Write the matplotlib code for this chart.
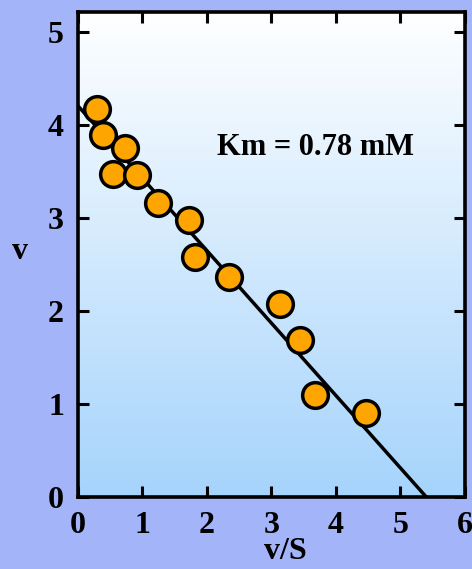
import numpy as np
import matplotlib
matplotlib.use("Agg")
import matplotlib.pyplot as plt

# Eadie-Hofstee data: v against v/S
v_over_s = [0.29, 0.39, 0.73, 0.54, 0.91, 1.24, 1.73, 1.81, 2.35, 3.14, 3.45, 3.68, 4.46]
v = [4.18, 3.89, 3.75, 3.48, 3.46, 3.16, 2.98, 2.58, 2.37, 2.07, 1.69, 1.10, 0.90]

km = 0.78
vmax = 4.21

plt.rcParams['font.family'] = ['Liberation Serif', 'DejaVu Serif']
plt.rcParams['font.weight'] = 'bold'

fig = plt.figure(figsize=(4.72, 5.69), dpi=100)
fig.patch.set_facecolor('#a3b4f8')
ax = fig.add_axes([0.165, 0.127, 0.82, 0.852])

xlim = (0, 6)
ylim = (0, 5.22)

# white-to-light-blue vertical gradient behind the data
grad = np.linspace(0, 1, 256).reshape(-1, 1)
top = np.array([1.0, 1.0, 1.0])
bottom = np.array([0.65, 0.83, 0.99])
img = top + (bottom - top) * grad[..., None]
ax.imshow(img, extent=[xlim[0], xlim[1], ylim[0], ylim[1]], aspect='auto',
          origin='upper', zorder=0)

# fitted line, slope = -Km
xs = np.array([0, vmax / km])
ax.plot(xs, vmax - km * xs, color='black', lw=2.5, zorder=2)

ax.plot(v_over_s, v, 'o', ms=18.5, mfc='#ffa500', mec='black', mew=2.5,
        zorder=3, clip_on=False)

ax.text(3.68, 3.76, 'Km = 0.78 mM', fontsize=22, fontweight='bold',
        ha='center', va='center')

ax.set_xlim(*xlim)
ax.set_ylim(*ylim)
ax.set_xticks(range(0, 7))
ax.set_yticks(range(0, 6))
ax.tick_params(direction='in', length=8, width=2.2, labelsize=23,
               top=True, right=True)
ax.tick_params(axis='x', pad=10)
ax.tick_params(axis='y', pad=10)
for lab in ax.get_xticklabels() + ax.get_yticklabels():
    lab.set_fontweight('bold')
for sp in ax.spines.values():
    sp.set_linewidth(2.6)

ax.set_xlabel('v/S', fontsize=23, fontweight='bold', va='center', ha='center')
ax.xaxis.set_label_coords(0.535, -0.113)
ax.set_ylabel('v', fontsize=23, fontweight='bold', rotation=0,
              va='center', ha='center')
ax.yaxis.set_label_coords(-0.15, 0.505)

fig.savefig('out.png', dpi=100, facecolor=fig.get_facecolor())
